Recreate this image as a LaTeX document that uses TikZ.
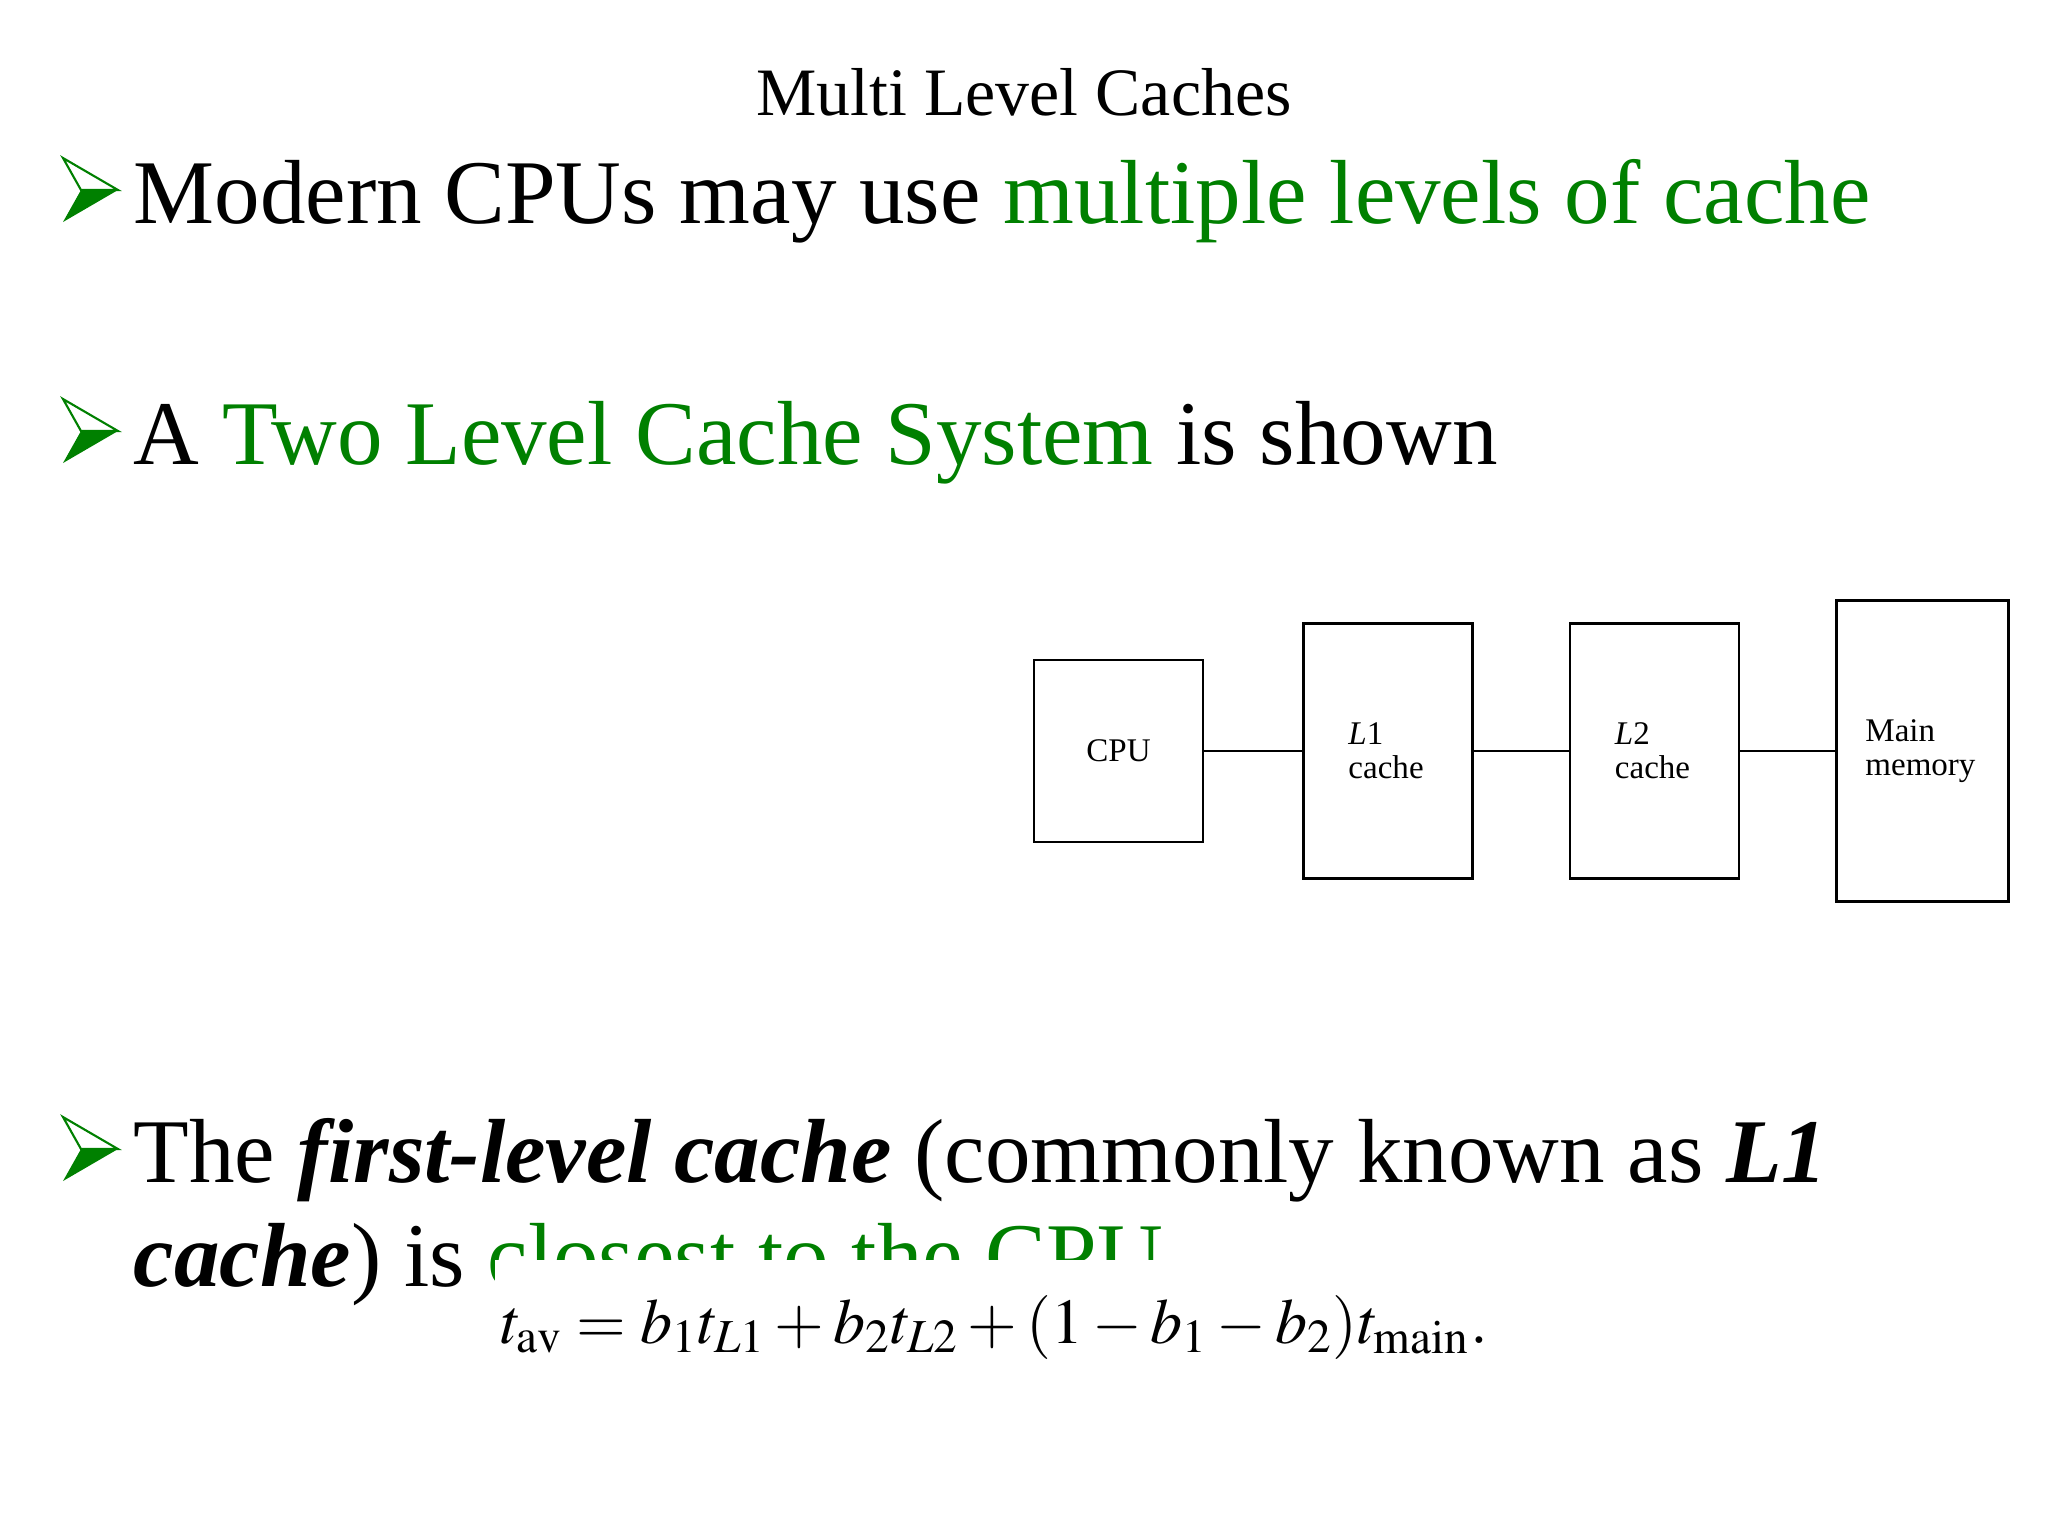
\documentclass[tikz,border=0pt]{standalone}
\usepackage{mathptmx}
\usepackage{fontspec}
\setmainfont{Liberation Serif}
\usepackage{xcolor}
\usetikzlibrary{positioning}

\definecolor{slidegreen}{RGB}{0,128,0}

\tikzset{
  bullettext/.style={anchor=base west, inner sep=0pt, font=\fontsize{25.9}{30}\selectfont},
  unitbox/.style={draw, line width=0.7pt, inner sep=0pt, font=\fontsize{9.4}{9.7}\selectfont},
  link/.style={line width=0.6pt},
  pics/slidebullet/.style={code={
    \filldraw[slidegreen, fill=white, line width=0.6pt] (0,0) -- (55,32) -- (18,32) -- cycle;
    \fill[slidegreen] (18,32) -- (55,32) -- (0,64) -- cycle;
  }}
}

\begin{document}
\begin{tikzpicture}[x=0.1mm, y=-0.1mm]
\useasboundingbox (0,0) rectangle (2048,1536);
\fill[white] (0,0) rectangle (2048,1536);

\node[anchor=base, inner sep=0pt, font=\fontsize{19.3}{23}\selectfont] (title) at (1024,115) {Multi Level Caches};

% bullets
\pic at (63,158) {slidebullet};
\node[bullettext] (levels) at (133,223) {Modern CPUs may use \textcolor{slidegreen}{multiple levels of cache}};
\pic at (63,399) {slidebullet};
\node[bullettext] (twolevel) at (133,464) {A \textcolor{slidegreen}{Two Level Cache System} is shown};
\pic at (63,1117) {slidebullet};
\node[bullettext] (firstlevel) at (133,1182) {The \textbf{\textit{first-level cache}} (commonly known as \textbf{\textit{L1}}};
\node[bullettext] (closest) at (133,1286) {\textbf{\textit{cache}}) is \textcolor{slidegreen}{closest to the CPU}};

% two level cache system
\node[unitbox, minimum width=16.9mm, minimum height=18.2mm] (cpu) at (1118.5,751) {CPU};
\node[unitbox, minimum width=16.9mm, minimum height=25.5mm, text width=7.9mm, align=left, right=9.8mm of cpu] (l1) {\textit{L}1\\cache};
\node[unitbox, minimum width=16.9mm, minimum height=25.5mm, text width=7.9mm, align=left, right=9.5mm of l1] (l2) {\textit{L}2\\cache};
\node[unitbox, minimum width=17.2mm, minimum height=30.1mm, text width=11.4mm, align=left, right=9.5mm of l2] (mainmem) {Main\\memory};
\draw[link] (cpu) -- (l1);
\draw[link] (l1) -- (l2);
\draw[link] (l2) -- (mainmem);

\node[fill=white, anchor=base west, inner xsep=0.6mm, inner ysep=0pt, text height=8.3mm, text depth=3.5mm, font=\fontsize{18.2}{21}\selectfont] (tav) at (494,1343) {$t_{\mathrm{av}} = b_1t_{L1} + b_2t_{L2} + (1 - b_1 - b_2)t_{\mathrm{main}}.$};
\end{tikzpicture}
\end{document}
